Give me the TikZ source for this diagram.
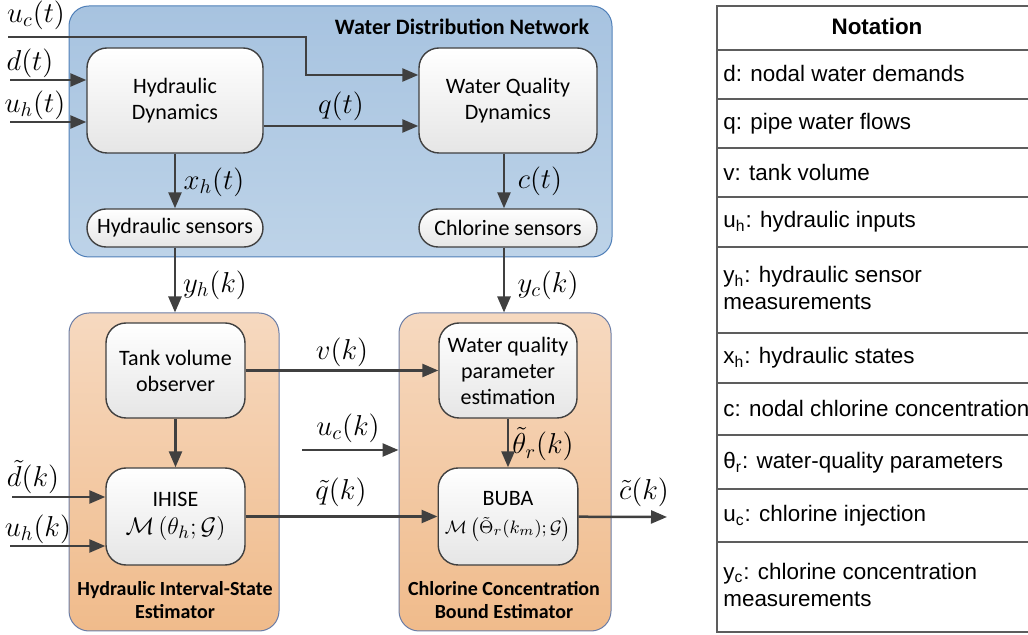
\documentclass[tikz,border=0pt]{standalone}
\usepackage{fontspec}
\setmainfont{Carlito}
\newfontfamily\notefont{Liberation Sans}
\usepackage{tikz}
\usetikzlibrary{arrows.meta}
\definecolor{linegray}{HTML}{404040}
\definecolor{wdntop}{HTML}{A7C3E0}
\definecolor{wdnbot}{HTML}{BDD3E8}
\definecolor{wdnedge}{HTML}{4F7FB8}
\definecolor{esttop}{HTML}{F6D9C0}
\definecolor{estbot}{HTML}{F0BB8B}
\definecolor{estedge}{HTML}{6B7DA6}
\tikzstyle{panel} = [rectangle, rounded corners=10pt, line width=0.5pt]
\tikzstyle{wdn} = [panel, draw=wdnedge, top color=wdntop, bottom color=wdnbot]
\tikzstyle{est} = [panel, draw=estedge, top color=esttop, bottom color=estbot]
\tikzstyle{block} = [rectangle, rounded corners=10pt, draw=linegray, line width=0.7pt, top color=white, bottom color=black!10, align=center, font=\fontsize{11}{13}\selectfont]
\tikzstyle{sensor} = [block, rounded corners=9.5pt, minimum width=88pt, minimum height=19pt]
\tikzstyle{title} = [font=\bfseries\fontsize{11}{11.5}\selectfont, align=center]
\tikzstyle{subtitle} = [font=\bfseries\fontsize{10}{11.5}\selectfont, align=center]
\tikzstyle{sig} = [font=\fontsize{14}{16}\selectfont, inner sep=1pt]
\tikzstyle{arrow} = [line width=1.25pt, draw=linegray, -{Triangle[length=8pt,width=6.5pt]}]
\tikzstyle{note} = [anchor=west, align=left, inner sep=0pt, font=\notefont\fontsize{11.2}{13.5}\selectfont]
\tikzstyle{rule} = [draw=linegray!85, line width=0.8pt]

\begin{document}
\begin{tikzpicture}[x=0.5pt, y=-0.5pt]

    \clip (0,0) rectangle (1028,635);

    % panels
    \node (wdn) [wdn, minimum width=271.5pt, minimum height=125.5pt] at (340.5,131.5) {};
    \node (wdnt) [title] at (462,27) {Water Distribution Network};
    \node (hise) [est, minimum width=105pt, minimum height=159pt] at (174,472) {};
    \node (cbe) [est, minimum width=106pt, minimum height=159pt] at (505,472) {};
    \node (hiset) [subtitle] at (175,600) {Hydraulic Interval-State\\Estimator};
    \node (cbet) [subtitle] at (504,600) {Chlorine Concentration\\Bound Estimator};

    % blocks
    \node (hd) [block, minimum width=88pt, minimum height=52.5pt] at (175,100.5) {Hydraulic\\Dynamics};
    \node (wqd) [block, minimum width=89pt, minimum height=52.5pt] at (508,100.5) {Water Quality\\Dynamics};
    \node (hs) [sensor] at (175,228) {Hydraulic sensors};
    \node (cs) [sensor, minimum width=89pt] at (508,228) {Chlorine sensors};
    \node (tvo) [block, minimum width=69.5pt, minimum height=47.5pt] at (175.5,370.5) {Tank volume\\observer};
    \node (ihise) [block, minimum width=69.5pt, minimum height=48.5pt] at (175.5,516.5) {IHISE\\[1pt]\fontsize{13}{15}\selectfont$\mathcal{M}\left(\theta_h;\mathcal{G}\right)$};
    \node (wqpe) [block, minimum width=69pt, minimum height=47.5pt] at (508,370.5) {Water quality\\parameter\\estimation};
    \node (buba) [block, minimum width=69pt, minimum height=48.5pt] at (508,516.5) {BUBA\\[1pt]\fontsize{9.5}{11}\selectfont$\mathcal{M}\left(\tilde{\Theta}_r(k_m);\mathcal{G}\right)$};

    % inputs
    \coordinate (ucin) at (8,37);
    \coordinate (ucbend) at (306,37);
    \coordinate (din) at (10,80);
    \coordinate (uhin) at (10,122);
    \coordinate (ucin2) at (302,450);
    \coordinate (dkin) at (12,497);
    \coordinate (uhkin) at (10,546);
    \coordinate (cout) at (667,517);

    \draw [arrow] (ucin) -- (ucbend) |- ([yshift=12.75pt]wqd.west);
    \draw [arrow] (din) -- (din -| hd.west);
    \draw [arrow] (uhin) -- (uhin -| hd.west);
    \draw [arrow] ([yshift=-12.75pt]hd.east) -- ([yshift=-12.75pt]wqd.west);
    \draw [arrow] (hd) -- (hs);
    \draw [arrow] ([xshift=-2pt]wqd.south) -- ([xshift=-2pt]cs.north);
    \draw [arrow] (hs) -- (hs |- hise.north);
    \draw [arrow] ([xshift=-2pt]cs.south) -- ([xshift=-2pt]cs.south |- cbe.north);
    \draw [arrow] (tvo) -- (ihise);
    \draw [arrow] (tvo.east) -- (tvo.east -| wqpe.west);
    \draw [arrow] (ucin2) -- (ucin2 -| cbe.west);
    \draw [arrow] (ihise) -- (buba);
    \draw [arrow] (wqpe) -- (buba);
    \draw [arrow] (buba) -- (cout);
    \draw [arrow] (dkin) -- (dkin -| ihise.west);
    \draw [arrow] (uhkin) -- (uhkin -| ihise.west);

    % signal labels
    \node (luct) [sig] at (36,15) {$u_c(t)$};
    \node (ldt) [sig] at (30,63) {$d(t)$};
    \node (luht) [sig] at (35,105) {$u_h(t)$};
    \node (lqt) [sig] at (341,106) {$q(t)$};
    \node (lxht) [sig] at (214,182) {$x_h(t)$};
    \node (lct) [sig] at (540,181) {$c(t)$};
    \node (lyhk) [sig] at (215,285) {$y_h(k)$};
    \node (lyck) [sig] at (548,285) {$y_c(k)$};
    \node (lvk) [sig] at (342,352) {$v(k)$};
    \node (luck) [sig] at (348,428) {$u_c(k)$};
    \node (lqk) [sig] at (341,492) {$\tilde{q}(k)$};
    \node (lthk) [sig] at (543,444) {$\tilde{\theta}_r(k)$};
    \node (lck) [sig] at (644,492) {$\tilde{c}(k)$};
    \node (ldk) [sig] at (33,477) {$\tilde{d}(k)$};
    \node (luhk) [sig] at (38,529) {$u_h(k)$};

    % notation table
    \foreach \yy in {50,99,148,197,247,333,383,435,489,542}
        \draw [rule] (717,\yy) -- (1030,\yy);
    \draw [rule] (1030,6) -- (717,6) -- (717,632) -- (1030,632);
    \node (nott) [font=\notefont\bfseries\fontsize{11.2}{13}\selectfont] at (877,27) {Notation};
    \node (nd) [note] at (723,74) {d: nodal water demands};
    \node (nq) [note] at (723,124) {q: pipe water flows};
    \node (nv) [note] at (723,172) {v: tank volume};
    \node (nuh) [note] at (723,222) {u\textsubscript{h}: hydraulic inputs};
    \node (nyh) [note] at (723,288) {y\textsubscript{h}: hydraulic sensor\\measurements};
    \node (nxh) [note] at (723,358) {x\textsubscript{h}: hydraulic states};
    \node (nc) [note] at (723,408) {c: nodal chlorine concentration};
    \node (nth) [note] at (723,463) {θ\textsubscript{r}: water-quality parameters};
    \node (nuc) [note] at (723,516) {u\textsubscript{c}: chlorine injection};
    \node (nyc) [note] at (723,585) {y\textsubscript{c}: chlorine concentration\\measurements};

\end{tikzpicture}
\end{document}
